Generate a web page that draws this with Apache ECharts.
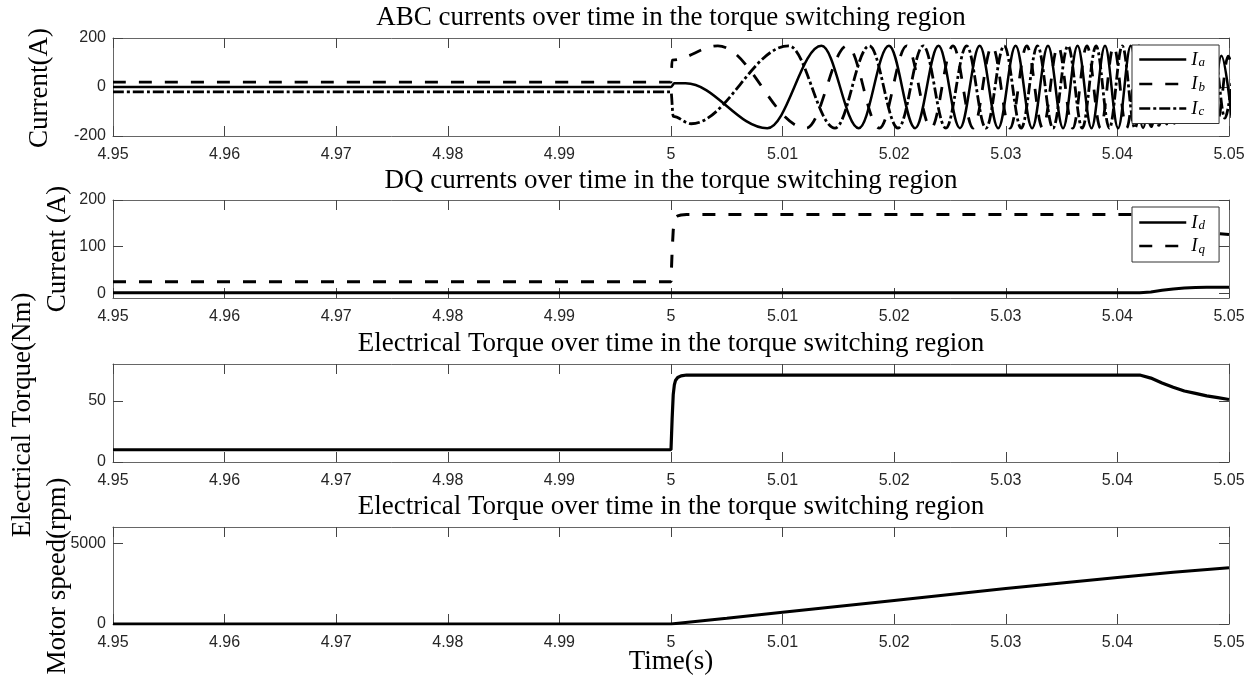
<!DOCTYPE html>
<html><head><meta charset="utf-8">
<script src="https://cdn.jsdelivr.net/npm/echarts@6/dist/echarts.min.js"></script>
<style>html,body{margin:0;padding:0;background:#fff}#c{width:1253px;height:679px}</style>
</head><body><div id="c"></div>
<script>
// ---------------- data ----------------
const xTickLabels = ['4.95','4.96','4.97','4.98','4.99','5','5.01','5.02','5.03','5.04','5.05'];
const abcTicks = [-200, 0, 200];
const dqTicks = [0, 100, 200];
const torqueTicks = [0, 50];
const speedTicks = [0, 5000];

// three phase currents: [time, current] at the start and at each extremum
const iaPoints = [
 [4.95,0],[5.0,0],[5.0003,15],[5.0013,15],
 [5.00863,-168],[5.01348,168],[5.01682,-168],[5.01953,168],[5.02188,-168],[5.02397,168],
 [5.02589,-168],[5.02766,168],[5.02932,-168],[5.03088,168],[5.03236,-168],[5.03378,168],
 [5.03513,-168],[5.03643,168],[5.03768,-168],[5.03889,168],[5.04006,-168],[5.04120,168],
 [5.04230,-167],[5.04338,159],[5.04442,-152],[5.04545,146],[5.04645,-141],[5.04742,136],
 [5.04838,-131],[5.04932,128],[5.05024,-126]
];
const ibPoints = [
 [4.95,20],[5.0,20],[5.0001,110],[5.0042,168],
 [5.01212,-168],[5.01579,168],[5.01867,-168],[5.02113,168],[5.02330,-168],[5.02527,168],
 [5.02708,-168],[5.02878,168],[5.03037,-168],[5.03188,168],[5.03331,-168],[5.03468,168],
 [5.03600,-168],[5.03727,168],[5.03849,-168],[5.03967,168],[5.04082,-168],[5.04194,168],
 [5.04302,-162],[5.04408,155],[5.04511,-148],[5.04612,142],[5.04710,-137],[5.04806,133],
 [5.04901,-129],[5.04993,126],[5.05084,-126]
];
const icPoints = [
 [4.95,-20],[5.0,-20],[5.0002,-120],[5.0018,-150],
 [5.01055,168],[5.01469,-168],[5.01777,168],[5.02035,-168],[5.02260,168],[5.02463,-168],
 [5.02649,168],[5.02822,-168],[5.02985,168],[5.03138,-168],[5.03284,168],[5.03423,-168],
 [5.03557,168],[5.03685,-168],[5.03809,168],[5.03928,-168],[5.04044,168],[5.04157,-168],
 [5.04266,165],[5.04373,-157],[5.04477,150],[5.04578,-144],[5.04677,139],[5.04774,-134],
 [5.04869,130],[5.04963,-127],[5.05054,126]
];
const idPoints = [
 [4.95,1],[5.0,1],[5.042,1],[5.043,3],[5.044,6.5],[5.045,9.5],[5.046,11.5],[5.047,12.5],[5.048,13],[5.05,13]
];
const iqPoints = [
 [4.95,25],[5.0,25],[5.0001,90],[5.0002,135],[5.0003,155],[5.0004,162],[5.0006,166],[5.0009,168],[5.0014,169],
 [5.042,169],[5.043,163],[5.044,154],[5.045,146],[5.046,140],[5.047,135],[5.048,131],[5.049,128],[5.05,126]
];
const torquePoints = [
 [4.95,10],[5.0,10],[5.0001,35],[5.0002,55],[5.0003,63],[5.0004,66.5],[5.0006,69],[5.0009,70.3],[5.0014,71],
 [5.042,71],[5.043,68.5],[5.044,64.5],[5.045,61],[5.046,58],[5.047,56],[5.048,54],[5.049,52.5],[5.05,51]
];
const speedPoints = [
 [4.95,0],[5.0,0],[5.005,360],[5.01,730],[5.02,1460],[5.03,2190],[5.04,2880],[5.045,3200],[5.05,3480]
];

// ---------------- layout / styles ----------------
const SANS = '"Liberation Sans", Arial, sans-serif';
const SERIF = '"Liberation Serif", "DejaVu Serif", serif';
const grids = [
  {left:113, width:1116, top:38, height:98},
  {left:113, width:1116, top:200, height:98},
  {left:113, width:1116, top:364, height:98},
  {left:113, width:1116, top:527, height:97}
];
const yRanges = [
  {min:-200, max:200, ticks:abcTicks},
  {min:-10, max:200, ticks:dqTicks},
  {min:0, max:80, ticks:torqueTicks},
  {min:0, max:6000, ticks:speedTicks}
];
const AXIS_COLOR = '#666';
const TICK_COLOR = '#444';
const LABEL_COLOR = '#262626';

const xAxis = [], yAxis = [];
grids.forEach((g, i) => {
  xAxis.push({
    type:'value', gridIndex:i, min:4.95, max:5.05, interval:0.01, position:'bottom',
    axisLine:{show:true, onZero:false, lineStyle:{color:AXIS_COLOR, width:1}},
    axisTick:{show:true, inside:true, length:10, lineStyle:{color:TICK_COLOR, width:1}},
    axisLabel:{show:true, margin:11, fontSize:16, color:LABEL_COLOR, fontFamily:SANS,
      formatter: v => xTickLabels[Math.round((v - 4.95) / 0.01)] ?? ''},
    splitLine:{show:false}
  });
  xAxis.push({
    type:'value', gridIndex:i, min:4.95, max:5.05, interval:0.01, position:'top',
    axisLine:{show:true, onZero:false, lineStyle:{color:AXIS_COLOR, width:1}},
    axisTick:{show:true, inside:true, length:10, lineStyle:{color:TICK_COLOR, width:1}},
    axisLabel:{show:false}, splitLine:{show:false}
  });
  const r = yRanges[i];
  yAxis.push({
    type:'value', gridIndex:i, min:r.min, max:r.max, position:'left',
    axisLine:{show:true, onZero:false, lineStyle:{color:AXIS_COLOR, width:1}},
    axisTick:{show:true, inside:true, length:10, customValues:r.ticks, lineStyle:{color:TICK_COLOR, width:1}},
    axisLabel:{show:true, margin:7, fontSize:16, color:LABEL_COLOR, fontFamily:SANS, customValues:r.ticks,
      formatter: v => String(v)},
    splitLine:{show:false}
  });
  yAxis.push({
    type:'value', gridIndex:i, min:r.min, max:r.max, position:'right',
    axisLine:{show:true, onZero:false, lineStyle:{color:AXIS_COLOR, width:1}},
    axisTick:{show:true, inside:true, length:10, customValues:r.ticks, lineStyle:{color:TICK_COLOR, width:1}},
    axisLabel:{show:false}, splitLine:{show:false}
  });
});

function lineSeries(name, data, gi, type, width, smooth) {
  const s = {
    type:'line', name, data, xAxisIndex:2*gi, yAxisIndex:2*gi,
    symbol:'none', showSymbol:false, animation:false, clip:true,
    lineStyle:{color:'#000', width, type}
  };
  if (smooth) { s.smooth = 0.36; s.smoothMonotone = 'x'; }
  return s;
}
const DASH = [13, 13];
const DASHDOT = [11, 3, 3, 3];

const series = [
  lineSeries('Ia', iaPoints, 0, 'solid', 2.5, true),
  lineSeries('Ib', ibPoints, 0, DASH, 2.8, true),
  lineSeries('Ic', icPoints, 0, DASHDOT, 2.8, true),
  lineSeries('Id', idPoints, 1, 'solid', 3, false),
  lineSeries('Iq', iqPoints, 1, DASH, 3, false),
  lineSeries('Torque', torquePoints, 2, 'solid', 3.2, false),
  lineSeries('Speed', speedPoints, 3, 'solid', 3, false)
];

const legendCommon = {
  orient:'vertical', left:1132, itemWidth:47, itemHeight:14,
  backgroundColor:'#fff', borderColor:'#333', borderWidth:1, borderRadius:0,
  selectedMode:false,
  itemStyle:{color:'rgba(0,0,0,0)', borderWidth:0, opacity:0},
  lineStyle:{width:2.5},
  formatter: n => '{i|I}{s|' + n.slice(1) + '}',
  textStyle:{
    color:'#000', padding:[0,0,0,0],
    rich:{
      i:{fontFamily:SERIF, fontStyle:'italic', fontSize:19, color:'#000', lineHeight:20, verticalAlign:'middle'},
      s:{fontFamily:SERIF, fontStyle:'italic', fontSize:13, color:'#000', lineHeight:20, verticalAlign:'bottom', padding:[0,0,0,1]}
    }
  }
};
const legend = [
  Object.assign({}, legendCommon, {top:45, padding:[5,14,5,6], itemGap:5, data:['Ia','Ib','Ic']}),
  Object.assign({}, legendCommon, {top:207, padding:[6,14,6,6], itemGap:4, data:['Id','Iq']})
];

function txt(text, x, y, size, rot) {
  return {type:'text', x, y, rotation: rot || 0, silent:true,
    style:{text, fill:'#000', font: size + 'px ' + SERIF, textAlign:'center', textVerticalAlign:'middle', verticalAlign:'middle'}};
}
const graphic = [
  txt('ABC currents over time in the torque switching region', 671, 18, 27),
  txt('DQ currents over time in the torque switching region', 671, 181, 27),
  txt('Electrical Torque over time in the torque switching region', 671, 344, 27),
  txt('Electrical Torque over time in the torque switching region', 671, 507, 27),
  txt('Current(A)', 40, 88, 27, Math.PI/2),
  txt('Current (A)', 58, 249, 27, Math.PI/2),
  txt('Electrical Torque(Nm)', 23, 415, 27, Math.PI/2),
  txt('Motor speed(rpm)', 58, 576, 27, Math.PI/2),
  txt('Time(s)', 671, 662, 27)
];

const chart = echarts.init(document.getElementById('c'), null, {renderer:'canvas', width:1253, height:679});
chart.setOption({
  backgroundColor:'#fff', animation:false,
  grid: grids, xAxis, yAxis, series, legend, graphic
});
</script>
</body></html>
